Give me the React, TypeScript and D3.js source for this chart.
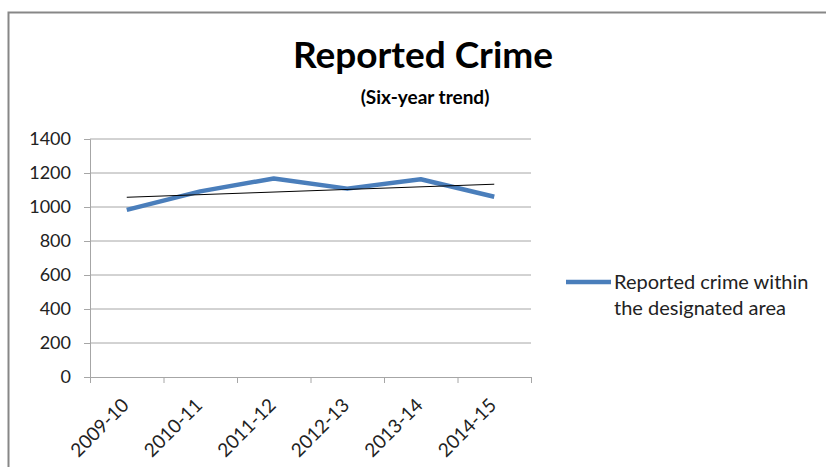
import React, { useRef, useLayoutEffect } from "react";
import * as d3 from "d3";

const years = ["2009-10", "2010-11", "2011-12", "2012-13", "2013-14", "2014-15"];
const crime = [983, 1092, 1168, 1108, 1163, 1060];
const yTicks = [0, 200, 400, 600, 800, 1000, 1200, 1400];

const W = 827;
const H = 467;
const FONT = "Lato, 'Open Sans', sans-serif";

export default function App() {
  const svgRef = useRef<SVGSVGElement | null>(null);

  useLayoutEffect(() => {
    const svg = svgRef.current;
    if (!svg) return;
    const sel = d3.select(svg);
    sel.selectAll("*").remove();

    const M = { l: 90, r: 531, t: 139, b: 377 };

    const x = d3.scaleBand<string>().domain(years).range([M.l, M.r]);
    const y = d3.scaleLinear().domain([0, 1400]).range([M.b, M.t]);
    const cx = (d: string) => (x(d) ?? 0) + x.bandwidth() / 2;

    // outer frame
    sel
      .append("path")
      .attr("d", `M8.5,${H + 2}V12.5H826`)
      .attr("fill", "none")
      .attr("stroke", "#878787")
      .attr("stroke-width", 2);

    // gridlines
    sel
      .append("g")
      .selectAll("line")
      .data(yTicks.filter((t) => t > 0))
      .enter()
      .append("line")
      .attr("x1", M.l)
      .attr("x2", M.r)
      .attr("y1", (d) => y(d))
      .attr("y2", (d) => y(d))
      .attr("stroke", "#a6a6a6")
      .attr("stroke-width", 1);

    // y axis
    const ya = sel
      .append("g")
      .attr("transform", `translate(${M.l},0)`)
      .call(
        d3
          .axisLeft(y)
          .tickValues(yTicks)
          .tickFormat(d3.format("d"))
          .tickSize(6)
          .tickPadding(13)
      );
    ya.select(".domain").attr("stroke", "#a6a6a6");
    ya.selectAll(".tick line").attr("stroke", "#a6a6a6");
    ya.selectAll("text")
      .attr("font-family", FONT)
      .attr("font-size", 18)
      .attr("fill", "#222");

    // x axis
    const xa = sel
      .append("g")
      .attr("transform", `translate(0,${M.b})`)
      .call(d3.axisBottom(x).tickSize(0).tickFormat(() => ""));
    xa.select(".domain").attr("stroke", "#a6a6a6");
    const xTickPos = years.map((d) => x(d) ?? 0).concat([M.r]);
    xa.selectAll(".xt")
      .data(xTickPos)
      .enter()
      .append("line")
      .attr("x1", (d) => d + 0.5)
      .attr("x2", (d) => d + 0.5)
      .attr("y1", 0)
      .attr("y2", 6)
      .attr("stroke", "#a6a6a6");

    sel
      .append("g")
      .selectAll("text")
      .data(years)
      .enter()
      .append("text")
      .attr("transform", (d) => `translate(${cx(d) - 6},${M.b + 20}) rotate(-45)`)
      .attr("text-anchor", "end")
      .attr("dy", "0.7em")
      .attr("font-family", FONT)
      .attr("font-size", 19)
      .attr("fill", "#222")
      .text((d) => d);

    // series
    const line = d3
      .line<number>()
      .x((_, i) => cx(years[i]))
      .y((d) => y(d));

    sel
      .append("path")
      .datum(crime)
      .attr("d", line)
      .attr("fill", "none")
      .attr("stroke", "#4a7ebb")
      .attr("stroke-width", 4.5)
      .attr("stroke-linejoin", "round");

    // linear trendline (least squares)
    const xs = crime.map((_, i) => i + 1);
    const mx = d3.mean(xs) as number;
    const my = d3.mean(crime) as number;
    const slope =
      d3.sum(xs, (v, i) => (v - mx) * (crime[i] - my)) /
      d3.sum(xs, (v) => (v - mx) ** 2);
    const trend = xs.map((v) => my + slope * (v - mx));
    sel
      .append("path")
      .datum([trend[0], trend[trend.length - 1]])
      .attr(
        "d",
        d3
          .line<number>()
          .x((_, i) => cx(years[i === 0 ? 0 : years.length - 1]))
          .y((d) => y(d))
      )
      .attr("fill", "none")
      .attr("stroke", "#000")
      .attr("stroke-width", 1);

    // title
    sel
      .append("text")
      .attr("x", 423)
      .attr("y", 68)
      .attr("text-anchor", "middle")
      .attr("font-family", FONT)
      .attr("font-weight", "bold")
      .attr("font-size", 37)
      .attr("fill", "#000")
      .text("Reported Crime");

    sel
      .append("text")
      .attr("x", 425)
      .attr("y", 104)
      .attr("text-anchor", "middle")
      .attr("font-family", FONT)
      .attr("font-weight", "bold")
      .attr("font-size", 19)
      .attr("fill", "#000")
      .text("(Six-year trend)");

    // legend
    sel
      .append("line")
      .attr("x1", 566)
      .attr("x2", 611)
      .attr("y1", 282)
      .attr("y2", 282)
      .attr("stroke", "#4a7ebb")
      .attr("stroke-width", 4.5);

    const lt = sel
      .append("text")
      .attr("font-family", FONT)
      .attr("font-size", 20)
      .attr("fill", "#222");
    lt.append("tspan").attr("x", 614).attr("y", 289).text("Reported crime within");
    lt.append("tspan").attr("x", 614).attr("y", 315).text("the designated area");
  }, []);

  return (
    <svg
      ref={svgRef}
      width={W}
      height={H}
      style={{ position: "absolute", left: 0, top: 0, background: "#fff" }}
    />
  );
}
